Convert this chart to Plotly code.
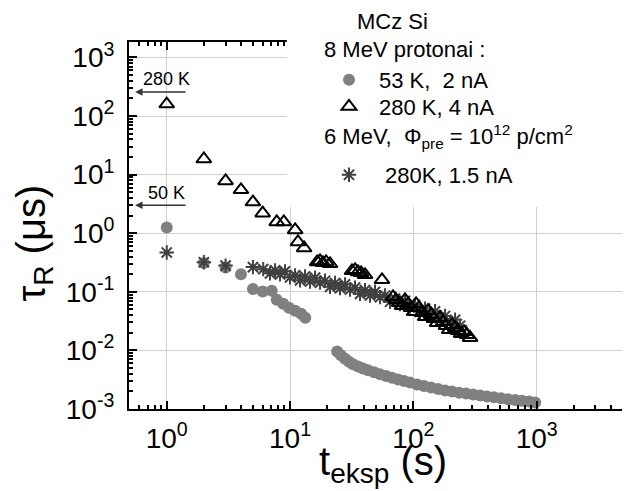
import numpy as np
import plotly.graph_objects as go

FONT = "Liberation Sans, Arial, sans-serif"

# 8 MeV protons, 53 K, 2 nA
t_53K = [1, 2, 3, 4, 5, 6, 7.1, 7.8, 8.8, 9.8, 11, 12.3, 13.3,
         24.1, 25.9, 27.9, 30.1, 32.4, 35.6, 39.1, 42.9, 48.0, 53.7, 60.1, 67.2,
         75.2, 84.1, 94.0, 107, 122, 139, 159, 181, 206, 235, 268, 305, 348,
         396, 451, 514, 586, 668, 761, 868, 971]
tau_53K = [1.25, 0.31, 0.26, 0.2, 0.112, 0.101, 0.104, 0.073, 0.0625, 0.0534, 0.0475, 0.0422, 0.036,
           0.0096, 0.0083, 0.0072, 0.0064, 0.0058, 0.0053, 0.0049, 0.0046, 0.00425, 0.0039, 0.00366, 0.00343,
           0.0032, 0.0030, 0.00282, 0.00262, 0.00247, 0.00233, 0.0022, 0.00207, 0.00198, 0.0019, 0.00183, 0.00177, 0.0017,
           0.00164, 0.00158, 0.00152, 0.00147, 0.00142, 0.00138, 0.00134, 0.00129]

# 8 MeV protons, 280 K, 4 nA
t_280K = [1, 2, 3, 4, 5, 6, 7.8, 8.9, 11, 11.6, 13,
          16.6, 17.5, 18.5, 19.6, 21.1,
          31.8, 33.7, 35.6, 37.7, 40.6, 55.7,
          68.4, 72.4, 76.6, 81.0, 85.6, 90.6, 95.8, 101.3, 105.2, 111.3, 117.7, 124.4,
          131.6, 139.2, 147.2, 155.7, 164.7, 174.1, 184.1, 195.0, 206, 218, 230.5,
          243.8, 257.8, 272.7, 288.4]
tau_280K = [160, 18.5, 7.8, 5.5, 3.4, 2.2, 1.56, 1.56, 1.14, 0.71, 0.56,
            0.324, 0.337, 0.312, 0.324, 0.30,
            0.228, 0.237, 0.219, 0.211, 0.195, 0.16,
            0.0822, 0.0731, 0.065, 0.0577, 0.0731, 0.0625, 0.0534, 0.0456, 0.0625, 0.0534, 0.0439, 0.0375,
            0.0475, 0.0406, 0.0347, 0.0296, 0.0361, 0.0308, 0.0264, 0.0225, 0.0274, 0.0244, 0.0217,
            0.0193, 0.0208, 0.0185, 0.0165]

# 6 MeV pre-irradiated, 280 K, 1.5 nA
t_pre = [1, 2, 3, 5, 6.06,
         6.88, 7.56, 8.30, 9.11, 10.0, 10.98, 12.05, 13.23, 14.53, 15.95, 17.51, 19.22,
         21.10, 23.17, 25.44, 27.93, 30.66, 33.66, 36.95, 40.57, 44.55, 48.91, 53.70,
         58.95, 64.72, 71.06, 78.01, 85.65, 94.01, 103.2, 113.3, 124.4, 136.6, 150.0,
         164.7, 180.7, 198.5, 217.9, 239.2]
tau_pre = [0.47, 0.32, 0.28, 0.264, 0.244,
           0.2066, 0.2324, 0.1987, 0.2235, 0.1766, 0.1910, 0.1570, 0.1830, 0.1498, 0.1745, 0.1434, 0.1545,
           0.1217, 0.1412, 0.1156, 0.1342, 0.1094, 0.1179, 0.0924, 0.1069, 0.0865, 0.1, 0.0812,
           0.0865, 0.0676, 0.0769, 0.0617, 0.0703, 0.0562, 0.0593, 0.0456, 0.0517, 0.0411, 0.0465,
           0.0371, 0.0387, 0.0296, 0.0333, 0.0264]

# initial-value arrows
arrow_labels = ["280 K", "50 K"]
arrow_tau = [258, 3.0]
label_tau = [437, 4.86]

decades_x = [0, 1, 2, 3]
decades_y = [-3, -2, -1, 0, 1, 2, 3]

fig = go.Figure()

fig.add_trace(go.Scatter(
    x=t_53K, y=tau_53K, mode="markers", name="53 K,\u00a0 2 nA", legend="legend", showlegend=True,
    marker=dict(symbol="circle", size=12, color="#808080"),
))
fig.add_trace(go.Scatter(
    x=t_pre, y=tau_pre, mode="markers", name="\u00a0280K, 1.5 nA", legend="legend3", showlegend=True,
    marker=dict(symbol="asterisk-open", size=12, color="#404040", line=dict(width=2, color="#404040")),
))
fig.add_trace(go.Scatter(
    x=t_280K, y=tau_280K, mode="markers", name="280 K, 4 nA", legend="legend2", showlegend=True,
    marker=dict(symbol="triangle-up-open", size=13, color="black", line=dict(width=2, color="black")),
))

for lab, ta, tl in zip(arrow_labels, arrow_tau, label_tau):
    fig.add_annotation(x=-0.257, y=np.log10(ta), ax=0.165, ay=np.log10(ta),
                       xref="x", yref="y", axref="x", ayref="y", text="",
                       showarrow=True, arrowhead=2, arrowsize=1, arrowwidth=1.5, arrowcolor="#333333")
    fig.add_annotation(x=0.0, y=np.log10(tl), xref="x", yref="y", text=lab, showarrow=False,
                       font=dict(size=18, color="black", family=FONT))

# axis titles
fig.add_annotation(x=0.507, y=-0.149, xref="paper", yref="paper", showarrow=False,
                   xanchor="center", yanchor="middle",
                   text="t<sub>eksp</sub> (s)", font=dict(size=40, color="black", family=FONT))
fig.add_annotation(x=-0.19, y=0.453, xref="paper", yref="paper", showarrow=False, textangle=-90,
                   xanchor="center", yanchor="middle",
                   text="\u03c4<sub>R</sub> (\u03bcs)", font=dict(size=40, color="black", family=FONT))

# white legend box
fig.add_shape(type="rect", xref="paper", yref="paper", x0=0.315, x1=1.01, y0=0.5505, y1=1.2,
              fillcolor="white", line=dict(width=0), layer="above")

# legend headings
legend_font = dict(size=22, color="black", family=FONT)
fig.add_annotation(x=0.451, y=1.0564, xref="paper", yref="paper", showarrow=False,
                   xanchor="left", yanchor="middle", text="MCz Si", font=legend_font)
fig.add_annotation(x=0.385, y=0.979, xref="paper", yref="paper", showarrow=False,
                   xanchor="left", yanchor="middle", text="8 MeV protonai :", font=legend_font)
fig.add_annotation(x=0.385, y=0.742, xref="paper", yref="paper", showarrow=False,
                   xanchor="left", yanchor="middle",
                   text="6 MeV,\u00a0 \u03a6<sub>pre</sub> = 10<sup>12</sup> p/cm<sup>2</sup>", font=legend_font)

minor_x = [k * 10.0 ** n for n in range(-1, 4) for k in range(2, 10)]
minor_y = [k * 10.0 ** n for n in range(-3, 3) for k in range(2, 10)]

axis_common = dict(
    type="log", showline=True, linewidth=2, linecolor="black", mirror="allticks",
    ticks="inside", ticklen=8, tickwidth=1.5, tickcolor="black",
    showgrid=True, gridcolor="#d0d0d0", gridwidth=1, zeroline=False,
    tickfont=dict(size=28, color="black", family=FONT),
)

fig.update_xaxes(
    range=[-0.306, 3.757],
    tickmode="array", tickvals=[10.0 ** d for d in decades_x],
    ticktext=[f"10<sup>{d}</sup>" for d in decades_x],
    minor=dict(tickmode="array", tickvals=minor_x, ticks="inside", ticklen=4, tickcolor="black", showgrid=False),
    ticklabelstandoff=3,
    **axis_common,
)
fig.update_yaxes(
    range=[-3.0, 3.264],
    tickmode="array", tickvals=[10.0 ** d for d in decades_y],
    ticktext=[f"10<sup>{d}</sup>" for d in decades_y],
    minor=dict(tickmode="array", tickvals=minor_y, ticks="inside", ticklen=4, tickcolor="black", showgrid=False),
    ticklabelstandoff=7,
    **axis_common,
)

legend_common = dict(
    xref="container", yref="container", x=311 / 622, xanchor="left", yanchor="middle",
    bgcolor="rgba(0,0,0,0)", font=legend_font, itemwidth=50,
)

fig.update_layout(
    width=622, height=483,
    margin=dict(l=121, r=0, t=34, b=82, autoexpand=False),
    paper_bgcolor="white", plot_bgcolor="white",
    font=dict(family=FONT, color="black"),
    showlegend=True,
    legend=dict(y=1 - 72 / 483, **legend_common),
    legend2=dict(y=1 - 98.7 / 483, **legend_common),
    legend3=dict(y=1 - 167 / 483, **legend_common),
)

fig.write_html("out.html")
